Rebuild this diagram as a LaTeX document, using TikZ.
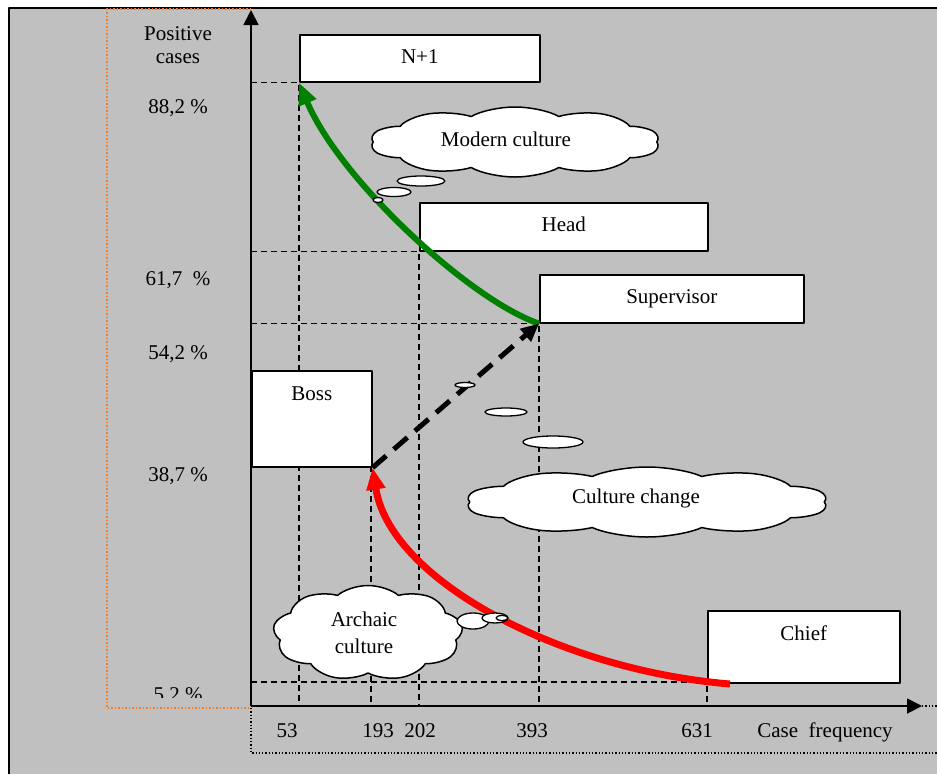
\documentclass[tikz,border=0pt]{standalone}
\usepackage{fontspec}
\setmainfont{Liberation Serif}
\usetikzlibrary{arrows.meta,shapes.symbols}
\definecolor{bggray}{RGB}{192,192,192}
\definecolor{dkgreen}{RGB}{0,128,0}
\definecolor{dotorange}{RGB}{250,120,30}
\begin{document}
\begin{tikzpicture}[x=1pt, y=-1pt, font=\fontsize{21}{23}\selectfont, line join=round,
	box/.style={draw, fill=white, line width=1.6pt, inner sep=0pt, anchor=north west, text height=14pt, text depth=4pt},
	grid/.style={line width=1.2pt, dash pattern=on 6pt off 4pt},
	axis/.style={line width=1.8pt, -{Triangle[length=15pt,width=15pt]}},
	lbl/.style={anchor=base, inner sep=0pt},
	bubble/.style={cloud, cloud puffs=10, cloud puff arc=110, cloud ignores aspect, draw, fill=white, line width=1.5pt, inner sep=0pt, transform shape},
	thought/.style={draw, fill=white, line width=1.3pt}]
	\useasboundingbox (0,0) rectangle (937,774);
	% frame
	\fill[bggray] (9,8) rectangle (937,774);
	\draw[line width=1.5pt] (9,774) -- (9,8) -- (937,8);
	\coordinate (O) at (251,706);
	\coordinate (ytop) at (251,10);
	\coordinate (xend) at (922,706);
	\draw[dotorange, dotted, line width=1.5pt] (251,9) -- (107,9) -- (107,708) -- (251,708);
	\draw[dotted, line width=1.3pt] (251,708) -- (251,753) -- (937,753);
	\draw[dotted, line width=1.3pt] (xend) -- (937,706);
	% boxes
	\node[box, minimum width=240pt, minimum height=47pt] (n1) at (299,34) {N+1};
	\node[box, minimum width=288pt, minimum height=48pt] (head) at (419,202) {Head};
	\node[box, minimum width=264pt, minimum height=48pt] (superv) at (539,274) {Supervisor};
	% guide lines
	\draw[grid] (O |- n1.south west) -- (n1.south west) -- (O -| n1.south west);
	\draw[grid] (O |- head.south west) -- (head.south west) -- (O -| head.south west);
	\draw[grid] (O |- superv.south west) -- (superv.south west) -- (O -| superv.south west);
	\draw[grid] (O |- 371,466) -- (371,466) -- (O -| 371,466);
	\draw[grid] (O |- 707,682) -- (707,682) -- (O -| 707,682);
	\node[box, minimum width=120pt, minimum height=96pt, label={[anchor=base, yshift=-30pt]north:Boss}] (boss) at (251,370) {};
	\node[box, minimum width=192pt, minimum height=72pt, label={[anchor=base, yshift=-30pt]north:Chief}] (chief) at (707,610) {};
	% axes
	\draw[axis] (O) -- (ytop);
	\draw[axis] (O) -- (xend);
	% culture curves
	\coordinate (rstart) at (730,684);
	\draw[red, line width=7pt, -{Triangle[length=22pt,width=18pt]}] (rstart) .. controls (560,670) and (390,580) .. (boss.south east);
	\draw[dkgreen, line width=6pt, -{Triangle[length=22pt,width=18pt]}] (superv.south west) .. controls (470,300) and (340,180) .. (n1.south west);
	\draw[line width=5pt, dash pattern=on 18pt off 10pt, -{Triangle[length=18pt,width=16pt]}] (boss.south east) -- (superv.south west);
	% clouds
	\begin{scope}[shift={(515,142)}, xscale=2.4]
		\node[bubble, minimum width=121pt, minimum height=70pt] (modern) at (0,0) {};
	\end{scope}
	\node (modtext) at (506,139) {Modern culture};
	\draw[thought] (421,181) ellipse [x radius=24pt, y radius=5pt];
	\draw[thought] (394,192) ellipse [x radius=17pt, y radius=4.5pt];
	\draw[thought] (378,200) ellipse [x radius=5pt, y radius=2.5pt];
	\begin{scope}[shift={(647,502)}, xscale=3]
		\node[bubble, minimum width=121pt, minimum height=70pt] (change) at (0,0) {};
	\end{scope}
	\node (chtext) at (636,498) {Culture change};
	\draw[thought] (553,442) ellipse [x radius=30pt, y radius=6pt];
	\draw[thought] (506,412) ellipse [x radius=21pt, y radius=4pt];
	\draw[thought] (465,385) ellipse [x radius=10pt, y radius=2.5pt];
	\begin{scope}[shift={(368,633)}, xscale=1.6]
		\node[bubble, cloud puffs=9, minimum width=119pt, minimum height=95pt] (archaic) at (0,0) {};
	\end{scope}
	\node[align=center] (arctext) at (364,633) {Archaic\\[4pt]culture};
	\draw[thought] (473,621) ellipse [x radius=16pt, y radius=8pt];
	\draw[thought] (495,618) ellipse [x radius=13pt, y radius=5pt];
	\draw[thought] (502,618) ellipse [x radius=6pt, y radius=2.5pt];
	% axis labels
	\node[anchor=north, inner sep=0pt, align=center] (ylab) at (178,26) {Positive\\cases};
	\node[lbl] (p88) at (178,113) {88,2 \%};
	\node[lbl] (p61) at (178,285) {61,7~ \%};
	\node[lbl] (p54) at (178,359) {54,2 \%};
	\node[lbl] (p38) at (178,481) {38,7 \%};
	\begin{scope}
		\clip (100,600) rectangle (250,697);
		\node[lbl] (p5) at (178,701) {5,2 \%};
	\end{scope}
	\foreach \v/\x in {53/287, 193/378, 202/420, 393/532, 631/697}
		\node[lbl] (t\v) at (\x,737) {\v};
	\node[lbl] (xlab) at (825,737) {Case~ frequency};
\end{tikzpicture}
\end{document}
